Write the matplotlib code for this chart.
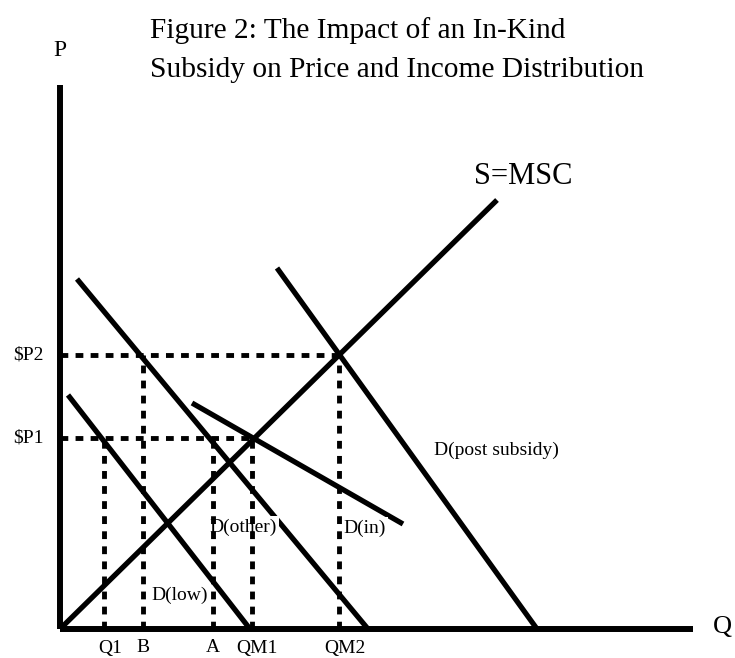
import matplotlib
matplotlib.use("Agg")
import matplotlib.pyplot as plt

# --- Data (quantity / price units, origin at the axes corner) ---
supply_q = [0, 437]
supply_p = [0, 429]

d_low_q = [8, 190]
d_low_p = [234, 0]

d_other_q = [17, 308]
d_other_p = [350, 0]

d_in_q = [132, 343]
d_in_p = [226, 105]

d_post_q = [217, 477]
d_post_p = [361, 0]

price_names = ["$P1", "$P2"]
price_levels = [191, 274]

qty_names = ["Q1", "B", "A", "QM1", "QM2"]
qty_levels = [44, 83, 153, 192, 279]
qty_heights = [191, 274, 191, 191, 274]   # price each dashed line rises to

title_lines = ["Figure 2: The Impact of an In-Kind",
               "Subsidy on Price and Income Distribution"]

# --- Figure setup: one axes spanning the whole canvas ---
plt.rcParams['font.family'] = ['Liberation Serif', 'DejaVu Serif']
fig = plt.figure(figsize=(7.35, 6.58), dpi=100)
ax = fig.add_axes([0, 0, 1, 1])
ax.set_xlim(-60, 675)
ax.set_ylim(-29, 629)
ax.axis('off')

solid = dict(color='black', lw=3.8, solid_capstyle='butt', zorder=2)
# dashed guides sit above the label boxes so they run through the text
dashed = dict(color='black', lw=3.5, linestyle=(0, (1.6, 1.5)),
              dash_capstyle='butt', zorder=4)

# axes lines
ax.plot([0, 0], [0, 544], color='black', lw=4.3, solid_capstyle='butt')
ax.plot([0, 633], [0, 0], color='black', lw=4.3, solid_capstyle='butt')

# dashed guide lines
ax.plot([0, qty_levels[4]], [price_levels[1]] * 2, **dashed)
ax.plot([0, qty_levels[3]], [price_levels[0]] * 2, **dashed)
for q, h in zip(qty_levels, qty_heights):
    ax.plot([q, q], [0, h], **dashed)

# curves
ax.plot(supply_q, supply_p, **solid)
ax.plot(d_low_q, d_low_p, **solid)
ax.plot(d_other_q, d_other_p, **solid)
ax.plot(d_in_q, d_in_p, **solid)
ax.plot(d_post_q, d_post_p, **solid)

# curve labels (white box hides the curve behind, like the original)
box = dict(facecolor='white', edgecolor='none', pad=1.5)
ax.text(463, 452, "S=MSC", fontsize=22, ha='center', va='center')
ax.text(436, 179, "D(post subsidy)", fontsize=14, ha='center', va='center')
ax.text(305, 101, "D(in)", fontsize=14, ha='center', va='center',
        bbox=box, zorder=3)
ax.text(183, 102, "D(other)", fontsize=14, ha='center', va='center',
        bbox=box, zorder=3)
ax.text(120, 34, "D(low)", fontsize=14, ha='center', va='center',
        bbox=box, zorder=3)

# tick-like labels
for name, p in zip(price_names, price_levels):
    ax.text(-32, p, name, fontsize=14, ha='center', va='center')
label_pos = [50, 83, 153, 197, 285]
for name, q in zip(qty_names, label_pos):
    ax.text(q, -19, name, fontsize=14, ha='center', va='center')

ax.text(0, 579, "P", fontsize=17, ha='center', va='center')
ax.text(653, 2, "Q", fontsize=19, ha='left', va='center')

# title, two left-aligned lines
ax.text(90, 598, title_lines[0], fontsize=21.2, ha='left', va='center')
ax.text(90, 559, title_lines[1], fontsize=21.2, ha='left', va='center')

fig.savefig("out.png", dpi=100, facecolor='white')
